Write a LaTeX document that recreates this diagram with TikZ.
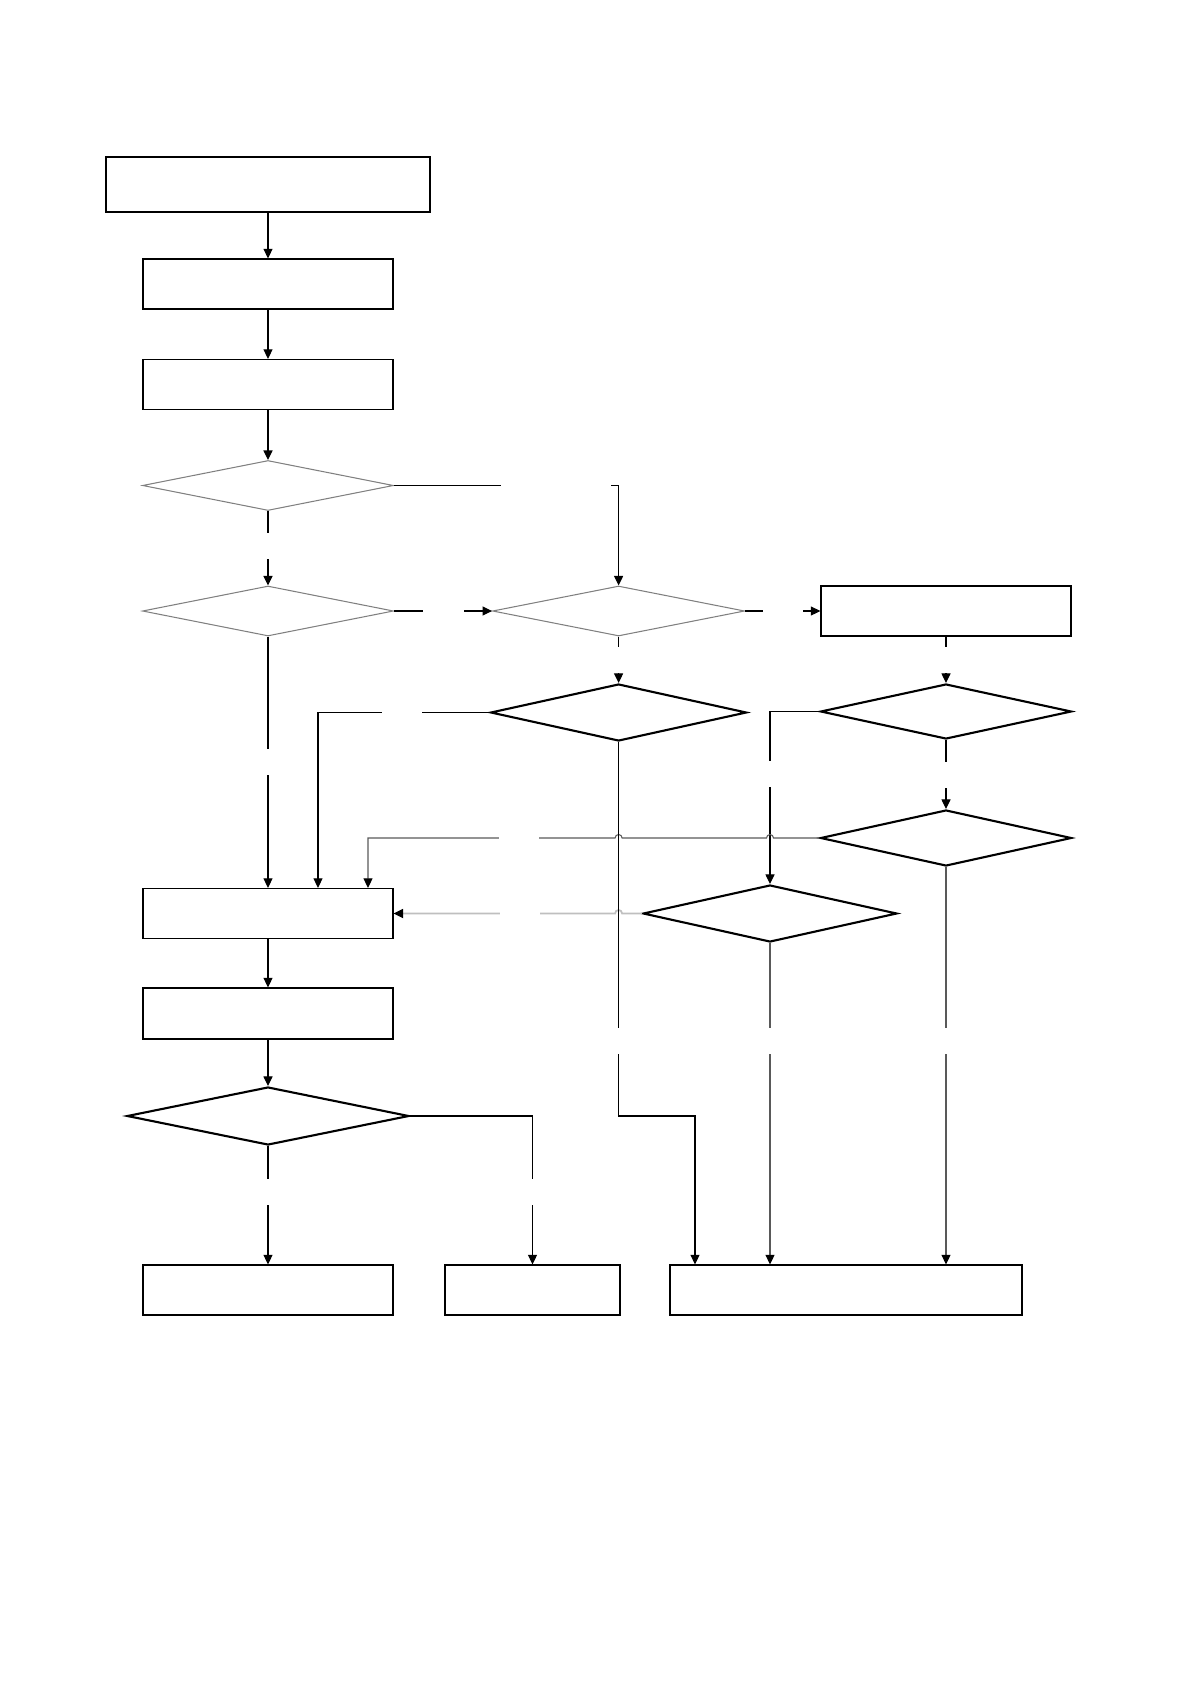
\documentclass[tikz,border=0pt]{standalone}
\usetikzlibrary{shapes.geometric, arrows.meta}
\begin{document}
\begin{tikzpicture}[
        x=0.1mm, y=-0.1mm,
        box/.style={rectangle, draw, line width=0.35pt, inner sep=0pt, minimum width=25mm, minimum height=5mm},
        grayask/.style={diamond, draw=gray, line width=0.3pt, inner sep=0pt, minimum width=25.1mm, minimum height=5mm},
        ask/.style={diamond, draw, line width=0.6pt, inner sep=0pt, minimum width=25.1mm, minimum height=5.6mm},
        arrow/.style={-{Triangle[length=0.95mm, width=0.9mm, color=black]}, line width=0.3pt},
        darkline/.style={draw=black!65},
        lightline/.style={draw=black!25, line width=0.5pt},
        hgap/.style={fill=white, inner sep=0pt, minimum height=0.6mm, minimum width=#1},
        vgap/.style={fill=white, inner sep=0pt, minimum width=0.6mm, minimum height=2.6mm}
    ]
        \useasboundingbox (0,0) rectangle (1191,1684);

        % Main column
        \node[box, minimum width=32.4mm, minimum height=5.5mm] (start) at (268,184.5) {};
        \node[box] (prep) at (268,284) {};
        \node[box] (setup) at (268,384.5) {};
        \node[grayask] (q1) at (268,485.5) {};
        \node[grayask] (q2) at (268,611) {};

        % Middle and right branches
        \node[grayask, minimum width=25.2mm] (q3) at (618.6,611) {};
        \node[box] (side) at (946,611) {};
        \node[ask, minimum width=25.6mm, minimum height=5.7mm] (q4) at (618.6,712.5) {};
        \node[ask, minimum height=5.5mm] (q5) at (946,711.5) {};
        \node[ask] (q6) at (946,838) {};
        \node[ask, minimum width=25.4mm, minimum height=5.7mm] (q7) at (770,913.5) {};

        % Lower column
        \node[box] (merge) at (268,913.5) {};
        \node[box, minimum height=5.1mm] (work) at (268,1013.5) {};
        \node[ask, minimum width=28.2mm, minimum height=5.8mm] (q8) at (268,1116) {};

        % End boxes
        \node[box] (endA) at (268,1290) {};
        \node[box, minimum width=17.5mm] (endB) at (532.5,1290) {};
        \node[box, minimum width=35.2mm] (endC) at (846,1290) {};

        % Entry points on the edges of boxes
        \coordinate (mergeB) at ([xshift=5mm]merge.north);
        \coordinate (mergeC) at ([xshift=10mm]merge.north);
        \coordinate (endC1) at ([xshift=-15.1mm]endC.north);
        \coordinate (endC2) at ([xshift=-7.6mm]endC.north);
        \coordinate (endC3) at ([xshift=10mm]endC.north);

        % Connectors
        \draw[arrow] (start) -- (prep);
        \draw[arrow] (prep) -- (setup);
        \draw[arrow] (setup) -- (q1);
        \draw[arrow] (q1) -- node[vgap, pos=0.47] {} (q2);
        \draw[arrow] (q1.east) -| node[hgap=11mm, pos=0.36] {} (q3.north);
        \draw[arrow] (q2) -- node[hgap=4.1mm] {} (q3);
        \draw[arrow] (q3) -- node[hgap=4mm] {} (side);
        \draw[arrow] (q3) -- node[vgap] {} (q4);
        \draw[arrow] (side) -- node[vgap] {} (q5);
        \draw[arrow] (q5) -- node[vgap] {} (q6);
        \draw[arrow] (q2) -- node[vgap] {} (merge);
        \draw[arrow] (q4.west) -| node[hgap=4mm, pos=0.256] {} (mergeB);
        \draw[arrow] (q5.west) -| node[vgap, pos=0.681] {} (q7.north);

        % Lines back to merge, hopping over the verticals
        \draw[arrow, darkline] (q6.west) -- ([xshift=0.35mm]q6.west -| q7.north)
            arc[start angle=0, end angle=180, radius=0.35mm]
            -- ([xshift=0.35mm]q6.west -| q4.north)
            arc[start angle=0, end angle=180, radius=0.35mm]
            -| node[hgap=4mm, pos=0.195] {} (mergeC);
        \draw[arrow, lightline] (q7.west) -- ([xshift=0.35mm]q7.west -| q4.north)
            arc[start angle=0, end angle=180, radius=0.35mm]
            -- node[hgap=4mm, pos=0.43] {} (merge.east);

        \draw[arrow] (merge) -- (work);
        \draw[arrow] (work) -- (q8);
        \draw[arrow] (q8) -- node[vgap, pos=0.39] {} (endA);
        \draw[arrow] (q8.east) -| node[vgap, pos=0.755] {} (endB.north);

        % Lines down to the last box
        \draw[arrow] (q4.south) -- node[vgap, pos=0.8] {} (q4.south |- q8) -| (endC1);
        \draw[arrow] (q7.south) -- node[vgap, pos=0.305] {} (endC2);
        \draw[arrow] (q6.south) -- node[vgap, pos=0.437] {} (endC3);
    \end{tikzpicture}
\end{document}
